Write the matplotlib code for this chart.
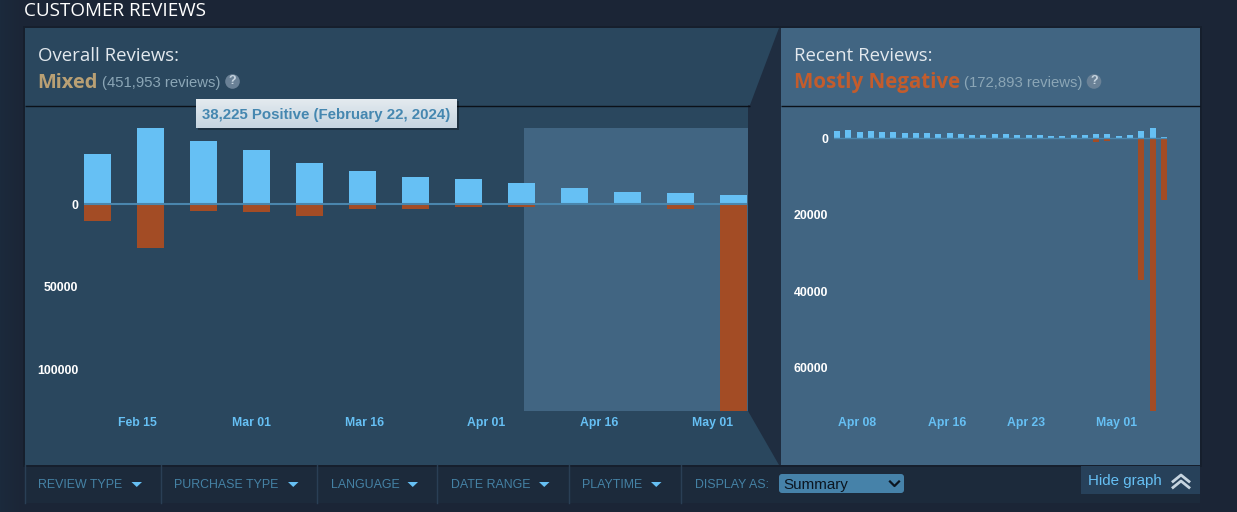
import datetime as dt
import numpy as np
import matplotlib
matplotlib.use("Agg")
import matplotlib.pyplot as plt
import matplotlib.dates as mdates
from matplotlib.patches import Rectangle, Polygon, FancyBboxPatch, Circle
from matplotlib.transforms import ScaledTranslation

# ---------- data ----------
overall_start = "2024-02-08"
overall_pos = [30900, 46400, 38225, 33200, 25300, 20300, 16400, 15200, 13300, 10000, 7300, 7000, 5800]
overall_neg = [10000, 26400, 4200, 4500, 7000, 2700, 2700, 1500, 1500, 600, 500, 2700, 125100]
overall_ticks = ["2024-02-15", "2024-03-01", "2024-03-16", "2024-04-01", "2024-04-16", "2024-05-01"]
overall_tick_labels = ["Feb 15", "Mar 01", "Mar 16", "Apr 01", "Apr 16", "May 01"]
overall_y = [0, 50000, 100000]

recent_start = "2024-04-06"
recent_pos = [1920, 2100, 1660, 2000, 1660, 1660, 1310, 1480, 1480, 1130, 1400, 1050, 960, 960, 1130,
              1130, 870, 870, 790, 700, 700, 790, 870, 1220, 1050, 700, 790, 1830, 2700, 350]
recent_neg = [200, 150, 150, 100, 100, 100, 100, 100, 100, 100, 100, 100, 100, 100, 100,
              100, 100, 100, 100, 100, 100, 100, 100, 1000, 800, 300, 100, 37200, 71400, 16200]
recent_ticks = ["2024-04-08", "2024-04-16", "2024-04-23", "2024-05-01"]
recent_tick_labels = ["Apr 08", "Apr 16", "Apr 23", "May 01"]
recent_y = [0, 20000, 40000, 60000]

# ---------- colours ----------
BG = "#1b2536"
BAR_BG = "#1c2a3b"
LEFT = "#2a475e"
RIGHT = "#416582"
GAP = "#1f2d40"
BLUE = "#66c0f4"
RED = "#a34c25"
LINE = "#4a86ad"
W, H = 1237, 512
SANS = "Liberation Sans"
HEAD = ["Open Sans", "DejaVu Sans"]

fig = plt.figure(figsize=(W / 100, H / 100), dpi=100, facecolor=BG)


def px_axes(left, top, right, bottom, **kw):
    return fig.add_axes([left / W, 1 - bottom / H, (right - left) / W, (bottom - top) / H], **kw)


# ---------- page furniture ----------
bg = fig.add_axes([0, 0, 1, 1], zorder=0)
bg.set_xlim(0, W)
bg.set_ylim(H, 0)
bg.axis("off")
bg.imshow(np.linspace(0, 1, 24).reshape(1, -1), extent=(0, 24, H, 0), aspect="auto",
          cmap=matplotlib.colors.LinearSegmentedColormap.from_list("m", ["#1b2a3c", BG]), zorder=0)
bg.set_xlim(0, W)
bg.set_ylim(H, 0)
bg.add_patch(Rectangle((25, 465), 1175, 38, fc=BAR_BG, ec="none", zorder=1))
bg.add_patch(Rectangle((23, 26), 1179, 441, fc="#161f2d", ec="none", zorder=1))
bg.add_patch(Rectangle((25, 28), 755, 437, fc=LEFT, ec="none", zorder=2))
bg.add_patch(Polygon([(779, 28), (781, 28), (781, 465), (779, 465), (748, 411), (748, 105), (750, 105)],
                     closed=True, fc=GAP, ec="none", zorder=3))
bg.add_patch(Rectangle((781, 28), 419, 437, fc=RIGHT, ec="none", zorder=3))
bg.add_patch(Rectangle((524, 128), 224, 283, fc=RIGHT, ec="none", zorder=3))
bg.plot([25, 750], [105.5, 105.5], color="#0b1119", lw=1, zorder=4, solid_capstyle="butt")
bg.plot([781, 1200], [105.5, 105.5], color="#0b1119", lw=1, zorder=4, solid_capstyle="butt")

bg.text(24, 11, "CUSTOMER REVIEWS", color="#ffffff", fontsize=13.6, family=HEAD, va="center", zorder=5)
bg.text(37.5, 56, "Overall Reviews:", color="#e3e9ee", fontsize=13.4, family=HEAD, va="center", zorder=5)
bg.text(37.5, 82.5, "Mixed", color="#b9a074", fontsize=14.4, family=HEAD, weight="bold", va="center", zorder=5)
bg.text(102, 83.5, "(451,953 reviews)", color="#8ba6b6", fontsize=10.75, family=SANS, va="center", zorder=5)
bg.text(794, 56, "Recent Reviews:", color="#e3e9ee", fontsize=13.4, family=HEAD, va="center", zorder=5)
bg.text(794, 82.5, "Mostly Negative", color="#c35c2c", fontsize=14.8, family=HEAD, weight="bold", va="center", zorder=5)
bg.text(964, 83.5, "(172,893 reviews)", color="#8ba6b6", fontsize=10.75, family=SANS, va="center", zorder=5)
for cx, cy in [(232.5, 81.5), (1094, 81.5)]:
    bg.add_patch(Circle((cx, cy), 7.3, fc="#6a8196", ec="none", zorder=5))
    bg.text(cx, cy, "?", color="#c6d4df", fontsize=9, family=SANS, weight="bold",
            ha="center", va="center", zorder=6)

# filter bar
filters = [("REVIEW TYPE", 38, 131.5), ("PURCHASE TYPE", 174, 288), ("LANGUAGE", 331, 407.5),
           ("DATE RANGE", 451, 539), ("PLAYTIME", 582, 651)]
for name, x, ax_ in filters:
    bg.text(x, 484.5, name, color="#4582a5", fontsize=8.9, family=SANS, va="center", zorder=5)
    bg.add_patch(Polygon([(ax_, 482), (ax_ + 10.5, 482), (ax_ + 5.25, 487)], closed=True,
                         fc=BLUE, ec="none", zorder=5))
for x in [25, 161, 317, 437, 569, 681]:
    bg.plot([x, x], [465, 503], color="#2a3f55", lw=1, zorder=5)
bg.text(695, 484.5, "DISPLAY AS:", color="#4582a5", fontsize=8.9, family=SANS, va="center", zorder=5)
bg.add_patch(FancyBboxPatch((780, 475), 123, 17, boxstyle="round,pad=1,rounding_size=3",
                            fc="#4682a9", ec="none", zorder=5))
bg.text(783, 484.5, "Summary", color="#0b1520", fontsize=10.9, family=SANS, va="center", zorder=6)
bg.plot([890, 894.5, 899], [481.5, 486, 481.5], color="#0b1520", lw=1.6, zorder=6)
bg.add_patch(Rectangle((1081, 466), 119, 28, fc="#27415a", ec="none", zorder=5))
bg.text(1088, 480.5, "Hide graph", color=BLUE, fontsize=10.9, family=SANS, va="center", zorder=6)
for dy in [0, 6]:
    bg.plot([1173, 1181, 1189], [481.5 + dy, 475 + dy, 481.5 + dy], color="#c6d4df", lw=2.0, zorder=6)


# ---------- charts ----------
def chart(box, start, pos, neg, xlim_days, bar_days, ticks, labels, yticks, ytop, ybot, ypad, zero_lw):
    ax = px_axes(*box, zorder=2)
    ax.patch.set_alpha(0)
    d0 = mdates.date2num(dt.date.fromisoformat(start))
    step = 7 if len(pos) < 20 else 1
    xs = d0 + np.arange(len(pos)) * step
    ax.bar(xs, pos, width=bar_days, align="edge", color=BLUE, lw=0, zorder=2)
    ax.bar(xs, -np.array(neg), width=bar_days, align="edge", color=RED, lw=0, zorder=2)
    ax.axhline(0, color=LINE, lw=zero_lw, zorder=3)
    ax.set_xlim(d0, d0 + xlim_days)
    ax.set_ylim(-ybot, ytop)
    ax.set_xticks([mdates.date2num(dt.date.fromisoformat(t)) for t in ticks])
    ax.set_xticklabels(labels, color=BLUE, fontsize=8.8, family=SANS, weight="bold")
    ax.set_yticks([-v for v in yticks])
    ax.set_yticklabels([str(v) for v in yticks], color="#ffffff", fontsize=8.95, family=SANS, weight="bold")
    ax.tick_params(axis="x", length=0, pad=4.5)
    ax.tick_params(axis="y", length=0, pad=ypad)
    nudge = ScaledTranslation(0.008, 0, fig.dpi_scale_trans)
    for lab in ax.get_xticklabels():
        lab.set_transform(lab.get_transform() + nudge)
    for s in ax.spines.values():
        s.set_visible(False)
    return ax


chart((83.8, 128, 747.3, 411), overall_start, overall_pos, overall_neg, 87.63, 3.57,
      overall_ticks, overall_tick_labels, overall_y, 46360, 125150, 4.0, 1.5)
chart((834, 128, 1167, 411), recent_start, recent_pos, recent_neg, 29.55, 0.53,
      recent_ticks, recent_tick_labels, recent_y, 2700, 71400, 4.2, 1.0)

# ---------- tooltip ----------
top = fig.add_axes([0, 0, 1, 1], zorder=5)
top.patch.set_alpha(0)
top.set_xlim(0, W)
top.set_ylim(H, 0)
top.axis("off")
top.add_patch(Rectangle((198, 101), 261, 29, fc="#000000", alpha=0.3, ec="none", zorder=1))
top.imshow(np.linspace(0, 1, 29).reshape(-1, 1), extent=(196, 457, 128, 99), aspect="auto", zorder=2,
           cmap=matplotlib.colors.LinearSegmentedColormap.from_list("t", ["#e3eaef", "#c7d5e0"]))
top.set_xlim(0, W)
top.set_ylim(H, 0)
top.text(202.5, 114.5, "38,225 Positive (February 22, 2024)", color="#4587b0", fontsize=10.8,
         family=SANS, weight="bold", va="center", zorder=3)

fig.savefig("out.png", dpi=100, facecolor=fig.get_facecolor())
